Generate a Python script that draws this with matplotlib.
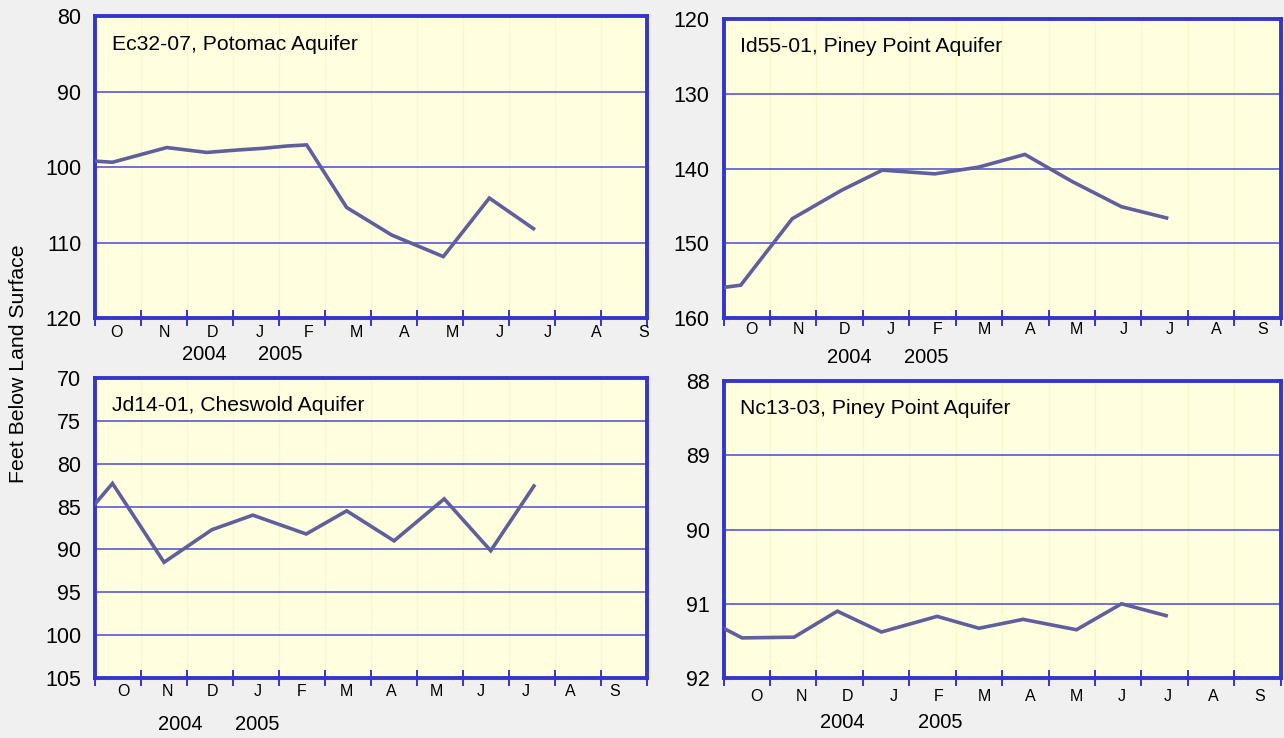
import matplotlib
matplotlib.use("Agg")
import matplotlib.pyplot as plt

# ---------------------------------------------------------------
# Ground-water levels, four observation wells (Oct 2004 - Sep 2005)
# x = months since start of water year (0 = start of Oct 2004)
# ---------------------------------------------------------------

months = ["O", "N", "D", "J", "F", "M", "A", "M", "J", "J", "A", "S"]
years = ["2004", "2005"]

ec32_month = [0.0, 0.38, 1.56, 2.43, 3.04, 3.66, 4.17, 4.6, 5.47, 6.45, 7.57, 8.57, 9.53]
ec32_level = [99.2, 99.35, 97.4, 98.05, 97.75, 97.5, 97.2, 97.05, 105.35, 109.0, 111.85, 104.1, 108.15]

id55_month = [0.0, 0.37, 1.48, 2.54, 3.42, 4.55, 5.49, 6.49, 7.5, 8.57, 9.54]
id55_level = [155.9, 155.6, 146.7, 142.9, 140.2, 140.7, 139.8, 138.1, 141.7, 145.1, 146.6]

jd14_month = [0.0, 0.38, 1.5, 2.54, 3.43, 4.59, 5.47, 6.5, 7.59, 8.6, 9.54]
jd14_level = [84.7, 82.3, 91.5, 87.7, 86.0, 88.2, 85.5, 89.0, 84.1, 90.15, 82.6]

nc13_month = [0.0, 0.4, 1.52, 2.45, 3.4, 4.6, 5.5, 6.45, 7.6, 8.57, 9.53]
nc13_level = [91.33, 91.46, 91.45, 91.10, 91.38, 91.17, 91.33, 91.21, 91.35, 91.0, 91.16]

BG = "#f0f0f0"
FACE = "#ffffe0"
FRAME = "#3535cc"
GRID = "#4a4ad0"
VGRID = "#f8f8c8"
LINE = "#5f5f9e"
FONT = "Liberation Sans"

plt.rcParams["font.family"] = FONT

fig = plt.figure(figsize=(12.84, 7.38), dpi=100, facecolor=BG)

# panel layout: rect, y-range, y-step, title, month label start/step, month label y, year x, year y
panels = [
    dict(rect=[0.074, 0.569, 0.430, 0.409], ylim=(120, 80), step=10,
         title="Ec32-07, Potomac Aquifer", x=ec32_month, y=ec32_level,
         m0=0.46, mstep=1.043, my=-14, yx=(2.37, 4.02), yy=-36),
    dict(rect=[0.5635, 0.569, 0.434, 0.405], ylim=(160, 120), step=10,
         title="Id55-01, Piney Point Aquifer", x=id55_month, y=id55_level,
         m0=0.61, mstep=1.0, my=-11, yx=(2.7, 4.36), yy=-39),
    dict(rect=[0.074, 0.0813, 0.430, 0.4065], ylim=(105, 70), step=5,
         title="Jd14-01, Cheswold Aquifer", x=jd14_month, y=jd14_level,
         m0=0.61, mstep=0.972, my=-13, yx=(1.85, 3.52), yy=-46),
    dict(rect=[0.5635, 0.0813, 0.434, 0.4024], ylim=(92, 88), step=1,
         title="Nc13-03, Piney Point Aquifer", x=nc13_month, y=nc13_level,
         m0=0.7, mstep=0.985, my=-18, yx=(2.55, 4.67), yy=-44),
]

for p in panels:
    ax = fig.add_axes(p["rect"])
    ax.set_facecolor(FACE)
    lo, hi = p["ylim"]
    ax.set_ylim(lo, hi)
    ax.set_xlim(0, 12)

    # light vertical month lines, blue horizontal grid
    for m in range(1, 12):
        ax.axvline(m, color=VGRID, lw=1.0, zorder=1)
    yt = list(range(hi, lo + 1, p["step"]))
    for v in yt[1:-1]:
        ax.axhline(v, color=GRID, lw=1.1, zorder=1)

    ax.plot(p["x"], p["y"], color=LINE, lw=2.6, zorder=3, clip_on=True,
            solid_joinstyle="miter")

    for s in ax.spines.values():
        s.set_color(FRAME)
        s.set_linewidth(2.8)

    ax.set_yticks(yt)
    ax.tick_params(axis="y", length=0, pad=10, labelsize=15.5)
    ax.set_xticks(range(13))
    ax.set_xticklabels([])
    ax.tick_params(axis="x", direction="inout", length=11, width=1.4,
                   color=FRAME)

    ax.text(0.03, 0.907, p["title"], transform=ax.transAxes, fontsize=15.2,
            ha="left", va="center")

    trans = ax.get_xaxis_transform()
    for i, lab in enumerate(months):
        ax.annotate(lab, xy=(p["m0"] + i * p["mstep"], 0), xycoords=trans,
                    xytext=(0, p["my"]), textcoords="offset pixels",
                    ha="center", va="center", fontsize=11.5)
    for xv, yr in zip(p["yx"], years):
        ax.annotate(yr, xy=(xv, 0), xycoords=trans,
                    xytext=(0, p["yy"]), textcoords="offset pixels",
                    ha="center", va="center", fontsize=14.5)

fig.text(0.0145, 0.507, "Feet Below Land Surface", rotation=90,
         ha="center", va="center", fontsize=15.3)

fig.savefig("out.png", dpi=100, facecolor=BG)
